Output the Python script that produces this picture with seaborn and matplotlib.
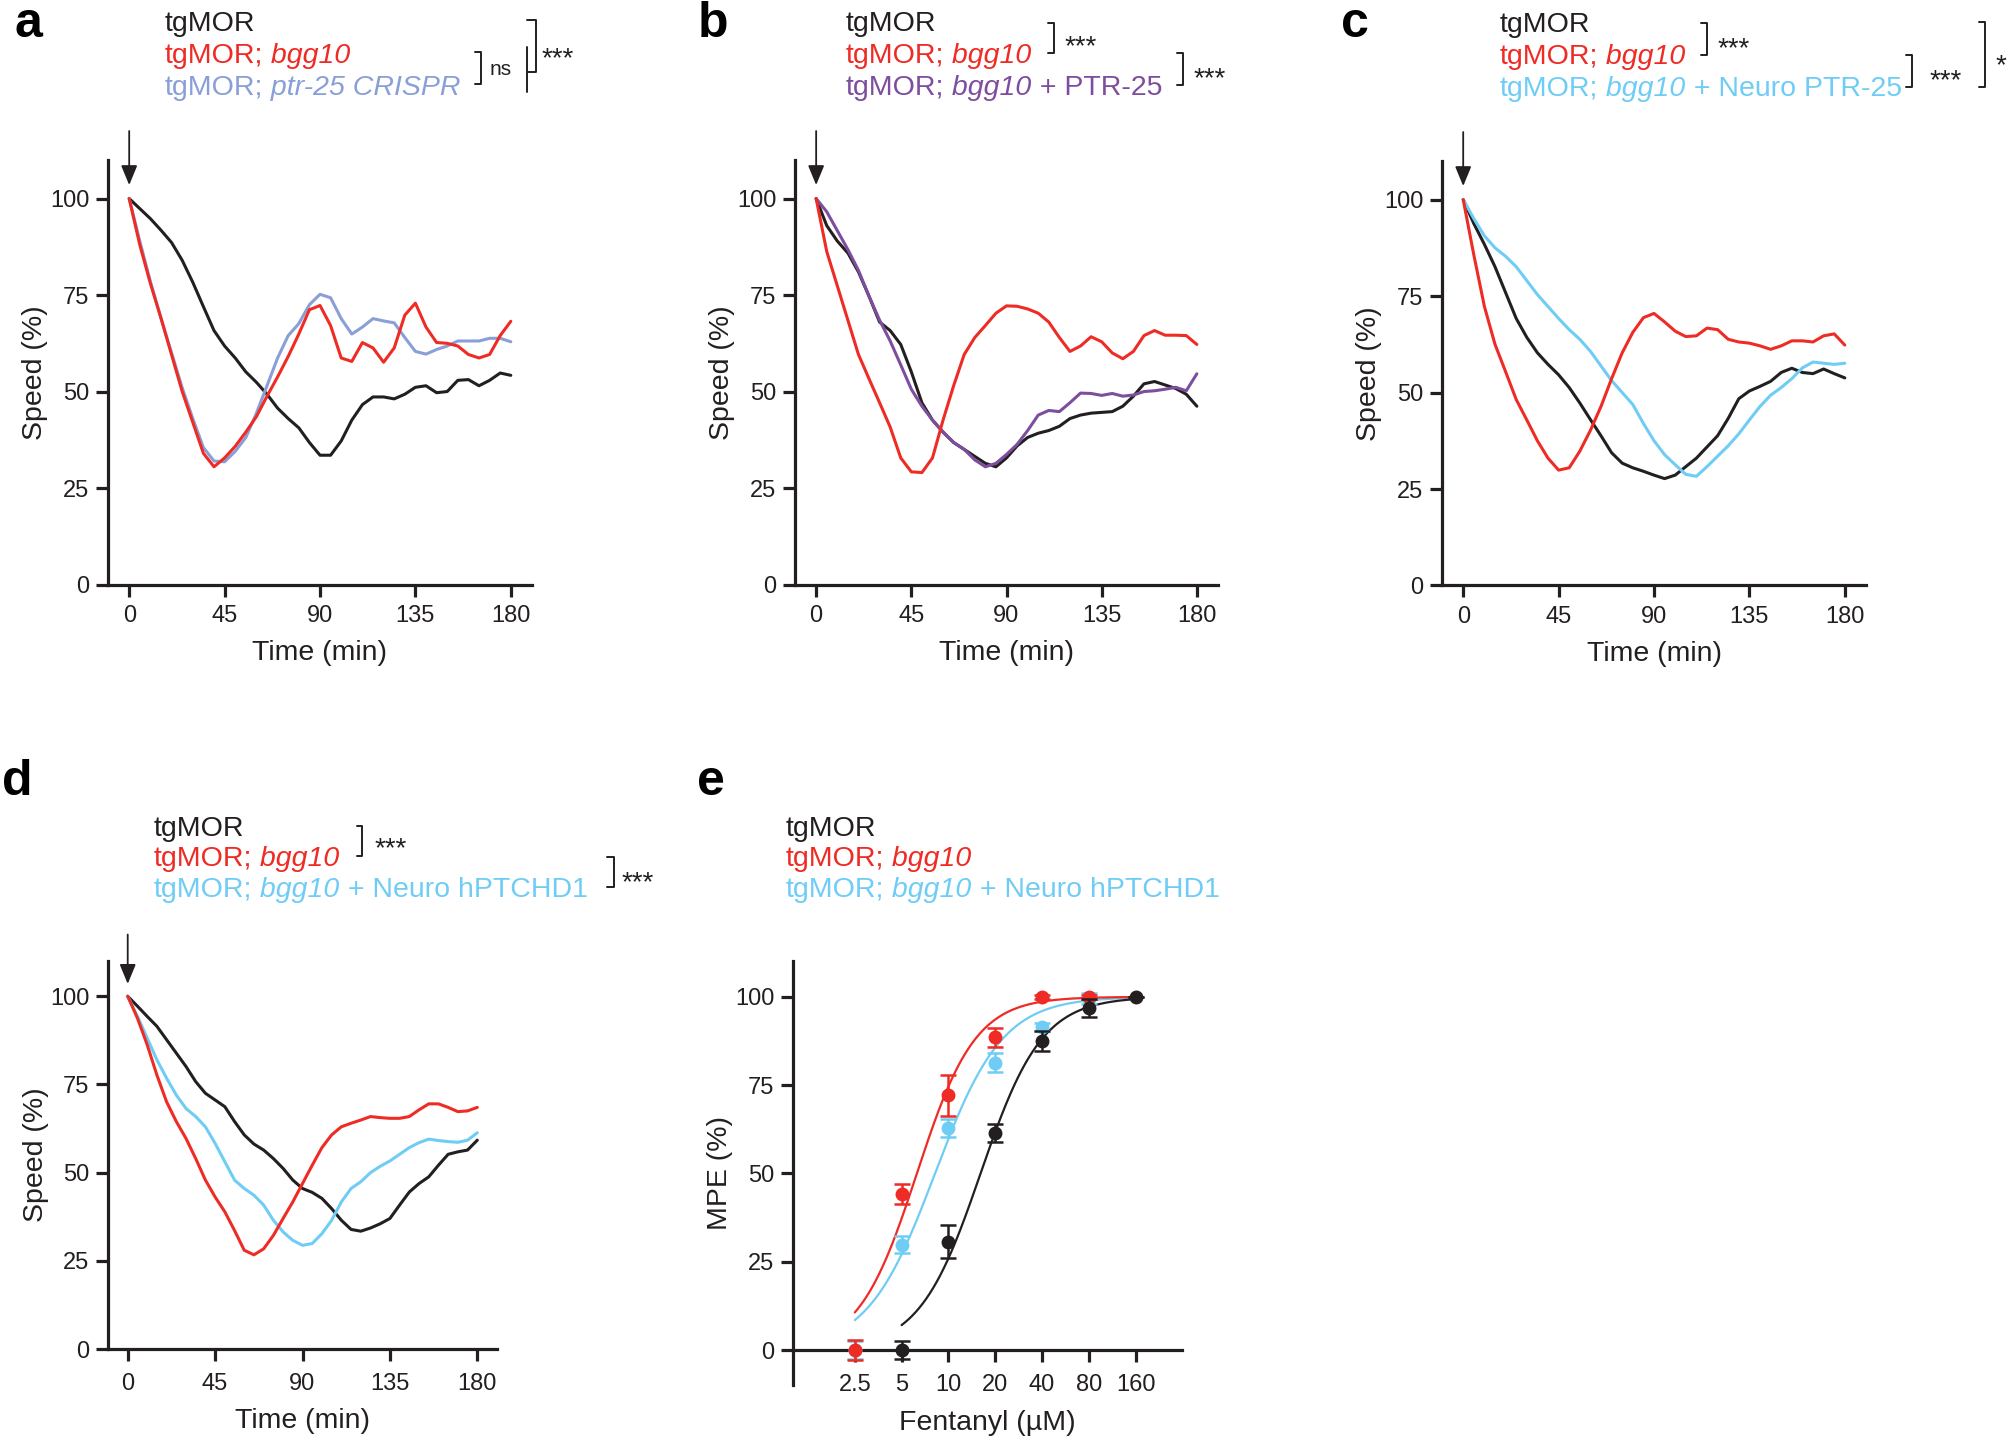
import numpy as np
import pandas as pd
import seaborn as sns
import matplotlib.pyplot as plt
from matplotlib.lines import Line2D

W, H = 2010, 1439

# ---------------- data ----------------
# speed (% of baseline) every 5 min after fentanyl (arrow at t = 0)
time_min = list(range(0, 181, 5))

# panel a
a_tgmor = [100, 97.4, 94.8, 91.8, 88.6, 84.0, 78.3, 72.0, 65.8, 61.8, 58.7, 55.1, 52.4,
           49.3, 45.7, 43.0, 40.6, 36.8, 33.5, 33.5, 37.2, 42.6, 46.6, 48.6, 48.6, 48.1,
           49.3, 51.1, 51.5, 49.7, 50.0, 52.9, 53.1, 51.5, 52.9, 54.8, 54.2]
a_bgg10 = [100, 88, 78, 69, 59.5, 50, 42, 34, 30.5, 32.8, 35.8, 39.5, 43.5, 48.8, 53.8,
           59.1, 64.9, 71.2, 72.3, 67.1, 58.7, 57.8, 62.7, 61.3, 57.6, 61.3, 69.8, 72.9,
           66.7, 62.7, 62.5, 61.8, 59.6, 58.7, 59.6, 64.5, 68.2]
a_ptr25_crispr = [100, 89, 78.5, 69, 60, 51, 43, 35.5, 32, 31.8, 34.5, 38.1, 44.4, 51.5,
                  58.7, 64.5, 67.6, 72.5, 75.2, 74.3, 68.9, 64.9, 66.7, 68.9, 68.3, 67.8,
                  64.0, 60.4, 59.7, 60.9, 61.8, 63.1, 63.1, 63.1, 63.8, 63.8, 62.9]

# panel b
b_tgmor = [100, 93, 89, 85.9, 81, 74.7, 68, 65.8, 62.2, 55.1, 47.1, 42.6, 39.5, 36.8, 35,
           33.2, 31.4, 30.5, 32.8, 35.9, 38.1, 39.2, 39.9, 41, 43, 43.9, 44.4, 44.6, 44.8,
           46.2, 48.8, 52, 52.6, 51.7, 50.8, 49.3, 46.2]
b_bgg10 = [100, 86.3, 77.4, 68.5, 59.6, 53.3, 47.1, 40.8, 32.8, 29.2, 29, 32.8, 42.6, 51.5,
           59.6, 64, 67.1, 70.3, 72.2, 72.1, 71.4, 70.3, 68, 64, 60.4, 61.8, 64.2, 62.9, 60,
           58.5, 60.4, 64.5, 65.8, 64.6, 64.6, 64.5, 62.2]
b_ptr25 = [100, 96.6, 91.7, 86.8, 81.4, 74.7, 68.5, 63.1, 56.9, 50.6, 46.2, 42.6, 39.5,
           36.8, 35, 32.3, 30.5, 31.4, 33.7, 36.3, 39.9, 43.9, 45.1, 44.8, 47.1, 49.6, 49.5,
           49, 49.5, 48.8, 49.1, 50, 50.2, 50.6, 51.1, 50.2, 54.6]

# panel c
c_tgmor = [100, 93.8, 88.4, 82.6, 75.9, 69.2, 64.3, 60.3, 57.3, 54.6, 51.3, 47.3, 43, 38.8,
           34.4, 31.7, 30.5, 29.6, 28.6, 27.7, 28.6, 30.8, 33, 35.9, 38.8, 43.3, 48.4, 50.4,
           51.6, 52.9, 55.2, 56.3, 55.2, 54.9, 56.1, 54.9, 53.8]
c_bgg10 = [100, 85.7, 72.3, 62.5, 55.4, 48.2, 42.9, 37.5, 33, 29.9, 30.5, 34.8, 40.2, 46.4,
           53.6, 60.3, 65.6, 69.4, 70.5, 68.3, 65.9, 64.5, 64.7, 66.7, 66.3, 63.8, 63.1,
           62.8, 62.1, 61.2, 62.1, 63.4, 63.4, 63.1, 64.7, 65.2, 62.3]
c_neuro_ptr25 = [100, 95.1, 90.6, 87.5, 85.3, 82.6, 79, 75.4, 72.3, 69.2, 66.3, 63.8, 60.7,
                 56.9, 53.1, 50, 46.9, 42, 37.5, 33.9, 31.3, 28.8, 28.3, 30.8, 33.5, 36.2,
                 39.3, 42.9, 46.4, 49.3, 51.3, 53.6, 56.4, 57.9, 57.6, 57.3, 57.6]

# panel d
d_tgmor = [100, 97.2, 94.3, 91.5, 87.7, 83.9, 80.1, 75.8, 72.5, 70.6, 68.7, 64.5, 60.7,
           58.1, 56.4, 54, 51.2, 47.9, 45.5, 44.4, 42.7, 39.8, 36.5, 33.9, 33.4, 34.3, 35.5,
           37, 40.8, 44.5, 46.9, 48.8, 52.1, 55.2, 55.9, 56.4, 59.2]
d_bgg10 = [100, 93.8, 86.3, 77.7, 70.1, 64.5, 59.7, 54, 47.9, 43.1, 38.9, 33.6, 28, 26.7,
           28.4, 32.2, 37, 41.7, 46.9, 52.1, 57.1, 60.7, 63, 64, 64.9, 65.9, 65.6, 65.4,
           65.4, 65.9, 67.8, 69.5, 69.5, 68.5, 67.3, 67.5, 68.5]
d_neuro_hptchd1 = [100, 94.3, 88.2, 82, 76.8, 72, 68.2, 65.9, 63, 58.3, 53.1, 47.9, 45.5,
                   43.6, 40.8, 36.5, 33.2, 30.8, 29.4, 29.9, 32.7, 36.5, 41.7, 45.5, 47.4,
                   50, 51.8, 53.3, 55.2, 57.1, 58.5, 59.5, 59.1, 58.8, 58.6, 59.2, 61.3]

# panel e: fentanyl dose response, mean +/- sem
dose_ticks = [2.5, 5, 10, 20, 40, 80, 160]
e_tgmor_dose = [5, 10, 20, 40, 80, 160]
e_tgmor_mpe = [0, 30.7, 61.5, 87.5, 96.8, 100]
e_tgmor_sem = [2.6, 4.6, 2.6, 2.7, 2.6, 0]
e_bgg10_dose = [2.5, 5, 10, 20, 40, 80]
e_bgg10_mpe = [0, 44.2, 72.1, 88.5, 100, 100]
e_bgg10_sem = [2.8, 2.9, 5.8, 2.8, 0.5, 0.5]
e_hptchd1_dose = [2.5, 5, 10, 20, 40, 80]
e_hptchd1_mpe = [0, 29.9, 62.9, 81.4, 91.5, 99.5]
e_hptchd1_sem = [2.6, 2.4, 2.5, 2.6, 1.2, 1.5]
# sigmoid fits: EC50 (uM), Hill slope, first dose of fitted range
e_tgmor_fit = (16.1, 2.2, 5)
e_bgg10_fit = (6.27, 2.31, 2.5)
e_hptchd1_fit = (8.2, 2.0, 2.5)

# ---------------- style ----------------
INK = "#231f20"
RED = "#ee2b24"
PERI = "#8a9fd8"
PURPLE = "#7d4e9e"
SKY = "#6fcdf5"

sns.set_style("ticks")
plt.rcParams["font.family"] = ["Liberation Sans", "DejaVu Sans"]

fig = plt.figure(figsize=(W / 100, H / 100), dpi=100)


def add_ax(left, top, right, bottom):
    # axes placed in pixel coordinates of the final image
    return fig.add_axes([left / W, 1 - bottom / H, (right - left) / W, (bottom - top) / H])


def style(ax, xlabel, ylabel, xpad=6):
    sns.despine(ax=ax)
    for s in ("left", "bottom"):
        ax.spines[s].set_linewidth(2.3)
        ax.spines[s].set_color(INK)
    ax.tick_params(width=2.3, length=8.5, labelsize=17, colors=INK, pad=5)
    ax.tick_params(axis="x", pad=xpad)
    ax.set_xlabel(xlabel, fontsize=20.5, labelpad=9.5, color=INK)
    ax.set_ylabel(ylabel, fontsize=20.5, labelpad=1, color=INK)


def time_course(ax, series, colors, xpad=6):
    names = list(series.keys())
    df = pd.DataFrame({
        "Time (min)": time_min * len(names),
        "Speed (%)": sum([series[n] for n in names], []),
        "Genotype": np.repeat(names, len(time_min)),
    })
    sns.lineplot(data=df, x="Time (min)", y="Speed (%)", hue="Genotype", hue_order=names,
                 palette=colors, linewidth=2.2, estimator=None, legend=False, ax=ax)
    ax.set_xlim(-10, 190)
    ax.set_ylim(0, 110)
    ax.set_xticks([0, 45, 90, 135, 180])
    ax.set_yticks([0, 25, 50, 75, 100])
    style(ax, "Time (min)", "Speed (%)", xpad)
    # fentanyl injection arrow
    ax.annotate("", xy=(0, 103.5), xytext=(0, 117.5),
                arrowprops=dict(arrowstyle="-|>,head_length=0.8,head_width=0.33",
                                mutation_scale=15, lw=1.3, color=INK,
                                shrinkA=0, shrinkB=0),
                annotation_clip=False)


ax_a = add_ax(108, 160, 532, 584.5)
time_course(ax_a, {"tgMOR": a_tgmor, "ptr-25 CRISPR": a_ptr25_crispr, "bgg10": a_bgg10},
            [INK, PERI, RED])

ax_b = add_ax(795, 160, 1218, 584.5)
time_course(ax_b, {"tgMOR": b_tgmor, "PTR-25": b_ptr25, "bgg10": b_bgg10},
            [INK, PURPLE, RED])

ax_c = add_ax(1442, 161, 1866, 585.5)
time_course(ax_c, {"tgMOR": c_tgmor, "Neuro PTR-25": c_neuro_ptr25, "bgg10": c_bgg10},
            [INK, SKY, RED])

ax_d = add_ax(108.3, 961, 496.7, 1349)
time_course(ax_d, {"tgMOR": d_tgmor, "Neuro hPTCHD1": d_neuro_hptchd1, "bgg10": d_bgg10},
            [INK, SKY, RED], xpad=9)

# panel e
ax_e = add_ax(792.9, 961.5, 1182, 1385.5)
groups_e = [
    ("Neuro hPTCHD1", e_hptchd1_dose, e_hptchd1_mpe, e_hptchd1_sem, e_hptchd1_fit, SKY),
    ("bgg10", e_bgg10_dose, e_bgg10_mpe, e_bgg10_sem, e_bgg10_fit, RED),
    ("tgMOR", e_tgmor_dose, e_tgmor_mpe, e_tgmor_sem, e_tgmor_fit, INK),
]
for i, (name, dose, mpe, sem, fit, col) in enumerate(groups_e):
    ec50, hill, lo = fit
    grid = np.geomspace(lo, 160, 200)
    sns.lineplot(x=grid, y=100 / (1 + (ec50 / grid) ** hill), color=col, linewidth=1.6,
                 ax=ax_e, zorder=2 + i)
    ax_e.errorbar(dose, mpe, yerr=sem, fmt="o", ms=9, color=col, ecolor=col,
                  elinewidth=1.8, capsize=5.5, capthick=1.8, zorder=5 + i, clip_on=False)
ax_e.set_xscale("log", base=2)
ax_e.set_xlim(1, 318)
ax_e.set_ylim(-10, 110)
ax_e.set_xticks(dose_ticks)
ax_e.set_xticklabels([f"{d:g}" for d in dose_ticks])
ax_e.xaxis.set_minor_locator(plt.NullLocator())
ax_e.set_yticks([0, 25, 50, 75, 100])
style(ax_e, "Fentanyl (µM)", "MPE (%)", xpad=9)
ax_e.spines["bottom"].set_position(("data", 0))

# ---------------- overlay: panel letters, coloured legends, stats brackets ----------------
ov = fig.add_axes([0, 0, 1, 1])
ov.set_xlim(0, W)
ov.set_ylim(H, 0)
ov.axis("off")
ov.set_zorder(10)


def rich_line(x, y, parts, size=20.5):
    t = ov.text(x, y, parts[0][0], color=parts[0][1], fontstyle=parts[0][2],
                fontsize=size, va="baseline", ha="left")
    for s, c, st in parts[1:]:
        t = ov.annotate(s, xy=(1, 0), xycoords=t, va="bottom", ha="left",
                        color=c, fontstyle=st, fontsize=size)


def legend_block(x, baselines, third):
    rich_line(x, baselines[0], [("tgMOR", INK, "normal")])
    rich_line(x, baselines[1], [("tgMOR;", RED, "normal"), (" bgg10", RED, "italic")])
    rich_line(x, baselines[2], third)


def bracket(x, y0, y1, tick=6.5):
    ov.add_line(Line2D([x - tick, x, x, x - tick], [y0, y0, y1, y1], lw=1.4, color=INK))


def stars(x, yc, s="***"):
    ov.text(x, yc + 16, s, fontsize=20, color=INK, va="baseline", ha="left")


for letter, (lx, ly) in zip("abcde", [(15, 37), (698, 37), (1341, 37), (2, 795), (697, 795)]):
    ov.text(lx, ly, letter, fontsize=36, fontweight="bold", color="black",
            va="baseline", ha="left")

top_lines = [31, 63, 95]
legend_block(165, top_lines, [("tgMOR;", PERI, "normal"), (" ptr-25 CRISPR", PERI, "italic")])
legend_block(846, top_lines, [("tgMOR;", PURPLE, "normal"), (" bgg10", PURPLE, "italic"),
                              (" + PTR-25", PURPLE, "normal")])
legend_block(1500, [l + 1 for l in top_lines],
             [("tgMOR;", SKY, "normal"), (" bgg10", SKY, "italic"),
              (" + Neuro PTR-25", SKY, "normal")])
bottom_lines = [836, 866.5, 897]
hptchd1 = [("tgMOR;", SKY, "normal"), (" bgg10", SKY, "italic"),
           (" + Neuro hPTCHD1", SKY, "normal")]
legend_block(154, bottom_lines, hptchd1)
legend_block(786, bottom_lines, hptchd1)

# a
bracket(481, 52, 84, tick=6)
ov.text(490, 75.4, "ns", fontsize=15, color=INK, va="baseline", ha="left")
bracket(535.5, 20, 71.5, tick=8.5)
ov.add_line(Line2D([527, 527], [46.5, 91.5], lw=1.4, color=INK))
stars(542, 50)
# b
bracket(1054, 22.7, 53.3)
stars(1065, 38)
bracket(1183, 53.3, 85)
stars(1194, 70)
# c
bracket(1706.7, 23.3, 55, tick=5.5)
stars(1718, 40)
bracket(1912, 55, 86.7, tick=6)
stars(1930, 72)
bracket(1985, 21.7, 86.7)
stars(1996, 57, "*")
# d
bracket(362, 826, 856, tick=5.5)
stars(375, 840)
bracket(613.6, 857, 887)
stars(622, 874)

fig.savefig("out.png", dpi=100)
